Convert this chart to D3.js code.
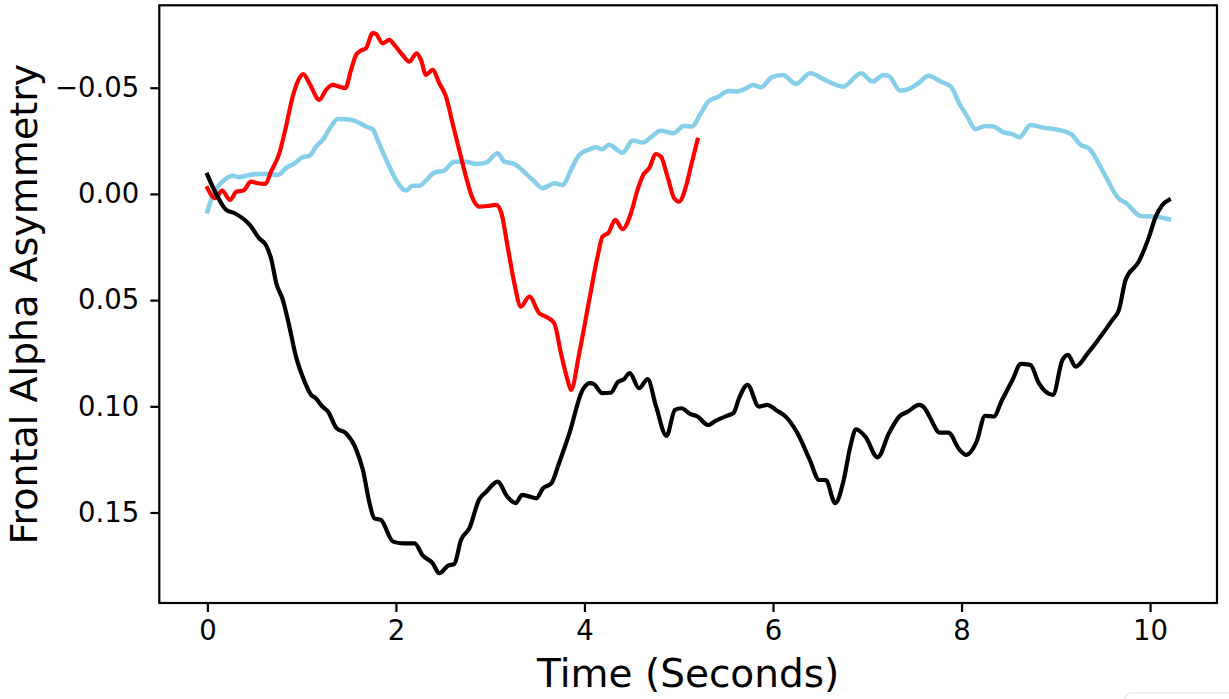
<!DOCTYPE html>
<html>
<head>
<meta charset="utf-8">
<script src="https://cdn.jsdelivr.net/npm/d3@7"></script>
<style>
  html, body { margin: 0; padding: 0; background: #fff; }
  svg { display: block; }
</style>
</head>
<body>
<svg id="chart" width="1229" height="699"></svg>
<script>
// ---- Data (time in seconds, frontal alpha asymmetry) ----
const xTicks = [0, 2, 4, 6, 8, 10];
const yTicks = [-0.05, 0.00, 0.05, 0.10, 0.15];
const xLabel = "Time (Seconds)";
const yLabel = "Frontal Alpha Asymmetry";

const seriesBlue = [[0,0.0083],[0.04,0.0028],[0.11,-0.0034],[0.18,-0.0066],[0.27,-0.0085],[0.34,-0.0079],[0.445,-0.0089],[0.551,-0.0094],[0.657,-0.0094],[0.746,-0.0089],[0.834,-0.0121],[0.923,-0.0144],[1.011,-0.0173],[1.082,-0.0179],[1.153,-0.0223],[1.223,-0.0254],[1.311,-0.0317],[1.382,-0.0353],[1.471,-0.0352],[1.559,-0.0345],[1.63,-0.033],[1.7,-0.0314],[1.753,-0.0305],[1.806,-0.0254],[1.859,-0.0199],[1.93,-0.0129],[2.001,-0.0066],[2.107,-0.0016],[2.177,-0.0038],[2.248,-0.0038],[2.319,-0.0063],[2.407,-0.01],[2.513,-0.011],[2.619,-0.0152],[2.743,-0.0152],[2.849,-0.0141],[2.955,-0.0147],[3.078,-0.0192],[3.15,-0.0152],[3.256,-0.0141],[3.344,-0.011],[3.45,-0.0066],[3.556,-0.0027],[3.68,-0.005],[3.768,-0.0042],[3.857,-0.0113],[3.945,-0.0184],[4.057,-0.021],[4.122,-0.022],[4.187,-0.021],[4.261,-0.0231],[4.404,-0.0194],[4.512,-0.0251],[4.62,-0.0242],[4.706,-0.0267],[4.806,-0.0297],[4.945,-0.0286],[5.053,-0.032],[5.14,-0.0317],[5.226,-0.0372],[5.313,-0.0435],[5.421,-0.0458],[5.529,-0.0485],[5.616,-0.0482],[5.702,-0.0494],[5.789,-0.0513],[5.875,-0.0502],[5.983,-0.0549],[6.105,-0.056],[6.243,-0.0518],[6.395,-0.0568],[6.567,-0.0533],[6.741,-0.0505],[6.935,-0.0568],[7.057,-0.0529],[7.174,-0.056],[7.238,-0.0552],[7.347,-0.0486],[7.434,-0.0493],[7.542,-0.0521],[7.65,-0.0556],[7.779,-0.0529],[7.887,-0.0505],[7.975,-0.0427],[8.061,-0.0364],[8.148,-0.0305],[8.256,-0.032],[8.342,-0.0317],[8.43,-0.0293],[8.538,-0.0281],[8.615,-0.0267],[8.732,-0.0325],[8.862,-0.0312],[9.035,-0.0301],[9.164,-0.0282],[9.264,-0.0231],[9.351,-0.0215],[9.511,-0.0097],[9.663,0.002],[9.749,0.0044],[9.9,0.0104],[10.052,0.0107],[10.2,0.0119]];

const seriesRed = [[0,-0.0027],[0.085,0.002],[0.156,-0.0016],[0.24,0.0028],[0.311,-0.0011],[0.382,-0.0016],[0.463,-0.0058],[0.533,-0.005],[0.615,-0.0047],[0.675,-0.0105],[0.764,-0.0192],[0.834,-0.0317],[0.905,-0.0458],[0.958,-0.0529],[1.018,-0.0564],[1.082,-0.0521],[1.188,-0.0443],[1.259,-0.049],[1.329,-0.0513],[1.40,-0.0505],[1.463,-0.0498],[1.524,-0.0584],[1.577,-0.0654],[1.63,-0.0675],[1.683,-0.0686],[1.753,-0.0757],[1.789,-0.0753],[1.859,-0.0709],[1.93,-0.0725],[1.983,-0.0702],[2.071,-0.0654],[2.142,-0.0623],[2.22,-0.0662],[2.266,-0.0631],[2.319,-0.056],[2.389,-0.0584],[2.46,-0.0521],[2.531,-0.0458],[2.601,-0.0333],[2.672,-0.0207],[2.743,-0.0081],[2.813,0.002],[2.884,0.006],[2.99,0.0056],[3.061,0.0052],[3.114,0.0083],[3.185,0.0248],[3.256,0.042],[3.326,0.0531],[3.415,0.0483],[3.521,0.0562],[3.592,0.0578],[3.68,0.0609],[3.751,0.075],[3.821,0.0876],[3.857,0.0923],[3.945,0.075],[4.051,0.0499],[4.139,0.0295],[4.192,0.0201],[4.256,0.0182],[4.327,0.0122],[4.404,0.0166],[4.493,0.0091],[4.563,-0.0019],[4.623,-0.0089],[4.687,-0.0121],[4.758,-0.0188],[4.811,-0.0176],[4.881,-0.0081],[4.952,0.002],[5.005,0.0036],[5.076,-0.0034],[5.129,-0.0129],[5.2,-0.0255]];

const seriesBlack = [[0,-0.009],[0.09,-0.0003],[0.2,0.0075],[0.29,0.0091],[0.45,0.0146],[0.55,0.0209],[0.62,0.024],[0.68,0.0311],[0.73,0.0419],[0.8,0.0499],[0.87,0.0625],[0.94,0.0766],[1.01,0.086],[1.1,0.0946],[1.15,0.0962],[1.22,0.1001],[1.28,0.1025],[1.37,0.1103],[1.47,0.1127],[1.58,0.1205],[1.65,0.13],[1.72,0.1456],[1.77,0.1527],[1.84,0.1535],[1.97,0.1637],[2.07,0.1645],[2.2,0.1645],[2.28,0.17],[2.39,0.1739],[2.46,0.1786],[2.55,0.1751],[2.62,0.1742],[2.69,0.1629],[2.78,0.1574],[2.88,0.1441],[2.96,0.1402],[3.08,0.1355],[3.18,0.1425],[3.27,0.1456],[3.34,0.1417],[3.49,0.1433],[3.56,0.1386],[3.65,0.1362],[3.73,0.1268],[3.84,0.1127],[3.98,0.0923],[4.06,0.0891],[4.1,0.0896],[4.19,0.0938],[4.28,0.0936],[4.35,0.0888],[4.42,0.0872],[4.48,0.0844],[4.58,0.0915],[4.67,0.0872],[4.76,0.1001],[4.87,0.1139],[4.96,0.1017],[5.03,0.1009],[5.12,0.1036],[5.2,0.1048],[5.31,0.1088],[5.39,0.1069],[5.51,0.1045],[5.58,0.1032],[5.64,0.0962],[5.73,0.0899],[5.85,0.1001],[5.94,0.0993],[6.03,0.1017],[6.14,0.1051],[6.26,0.1127],[6.39,0.1252],[6.49,0.1347],[6.56,0.1347],[6.66,0.1456],[6.75,0.1347],[6.82,0.119],[6.88,0.1108],[6.98,0.1143],[7.11,0.124],[7.23,0.1127],[7.34,0.1048],[7.43,0.1025],[7.55,0.0993],[7.61,0.1009],[7.66,0.1048],[7.77,0.1124],[7.86,0.1124],[7.98,0.1205],[8.05,0.1229],[8.16,0.1166],[8.25,0.1045],[8.34,0.1048],[8.43,0.097],[8.54,0.0876],[8.63,0.08],[8.73,0.0805],[8.82,0.0891],[8.97,0.0946],[9.07,0.0782],[9.13,0.0758],[9.21,0.0813],[9.34,0.075],[9.45,0.0687],[9.6,0.0593],[9.67,0.0546],[9.74,0.0405],[9.88,0.0319],[9.99,0.0201],[10.06,0.0107],[10.13,0.0052],[10.2,0.0028]];

// ---- Layout ----
const W = 1229, H = 699;
const plot = { left: 159.3, right: 1217, top: 5.3, bottom: 603 };
const FONT = "'DejaVu Sans', 'Liberation Sans', sans-serif";

const svg = d3.select("#chart");
svg.append("rect").attr("width", W).attr("height", H).attr("fill", "#fff");

const x = d3.scaleLinear().domain([-0.51, 10.71]).range([plot.left, plot.right]);
// inverted y axis: negative values on top
const y = d3.scaleLinear().domain([-0.0888, 0.1926]).range([plot.top, plot.bottom]);

const line = d3.line()
  .x(d => x(d[0]))
  .y(d => y(d[1]))
  .curve(d3.curveMonotoneX);

const series = [
  { data: seriesBlue, color: "#87CEEB", width: 4.5 },
  { data: seriesRed, color: "#ff0000", width: 4.2 },
  { data: seriesBlack, color: "#000000", width: 4.2 }
];

const clipId = "plotclip";
svg.append("clipPath").attr("id", clipId)
  .append("rect")
  .attr("x", plot.left).attr("y", plot.top)
  .attr("width", plot.right - plot.left).attr("height", plot.bottom - plot.top);

const g = svg.append("g").attr("clip-path", `url(#${clipId})`);
series.forEach(s => {
  g.append("path")
    .datum(s.data)
    .attr("d", line)
    .attr("fill", "none")
    .attr("stroke", s.color)
    .attr("stroke-width", s.width)
    .attr("stroke-linejoin", "round")
    .attr("stroke-linecap", "square");
});

// ---- Axes ----
const xAxis = d3.axisBottom(x).tickValues(xTicks).tickSize(9).tickPadding(8).tickFormat(d3.format("d"));
const yAxis = d3.axisLeft(y).tickValues(yTicks).tickSize(9).tickPadding(11).tickFormat(d3.format(".2f"));

const gx = svg.append("g").attr("transform", `translate(0,${plot.bottom})`).call(xAxis);
const gy = svg.append("g").attr("transform", `translate(${plot.left},0)`).call(yAxis);
[gx, gy].forEach(a => {
  a.select(".domain").remove();
  a.selectAll(".tick line").attr("stroke", "#000").attr("stroke-width", 2.2);
  a.selectAll(".tick text")
    .attr("fill", "#000")
    .style("font-family", FONT)
    .style("font-size", "27.5px");
});

// frame
svg.append("rect")
  .attr("x", plot.left).attr("y", plot.top)
  .attr("width", plot.right - plot.left).attr("height", plot.bottom - plot.top)
  .attr("fill", "none").attr("stroke", "#000").attr("stroke-width", 2.2);

// axis labels
svg.append("text")
  .attr("x", (plot.left + plot.right) / 2).attr("y", 687)
  .attr("text-anchor", "middle")
  .style("font-family", FONT).style("font-size", "39px")
  .attr("fill", "#000")
  .text(xLabel);

svg.append("text")
  .attr("transform", `translate(36.5,${(plot.top + plot.bottom) / 2}) rotate(-90)`)
  .attr("text-anchor", "middle")
  .style("font-family", FONT).style("font-size", "38px")
  .attr("fill", "#000")
  .text(yLabel);

// faint UI artifact at bottom-right corner of the reference screenshot
svg.append("rect")
  .attr("x", 1125).attr("y", 693).attr("width", 130).attr("height", 30).attr("rx", 6)
  .attr("fill", "#fff").attr("stroke", "#e2e2e2").attr("stroke-width", 1.2);
</script>
</body>
</html>
